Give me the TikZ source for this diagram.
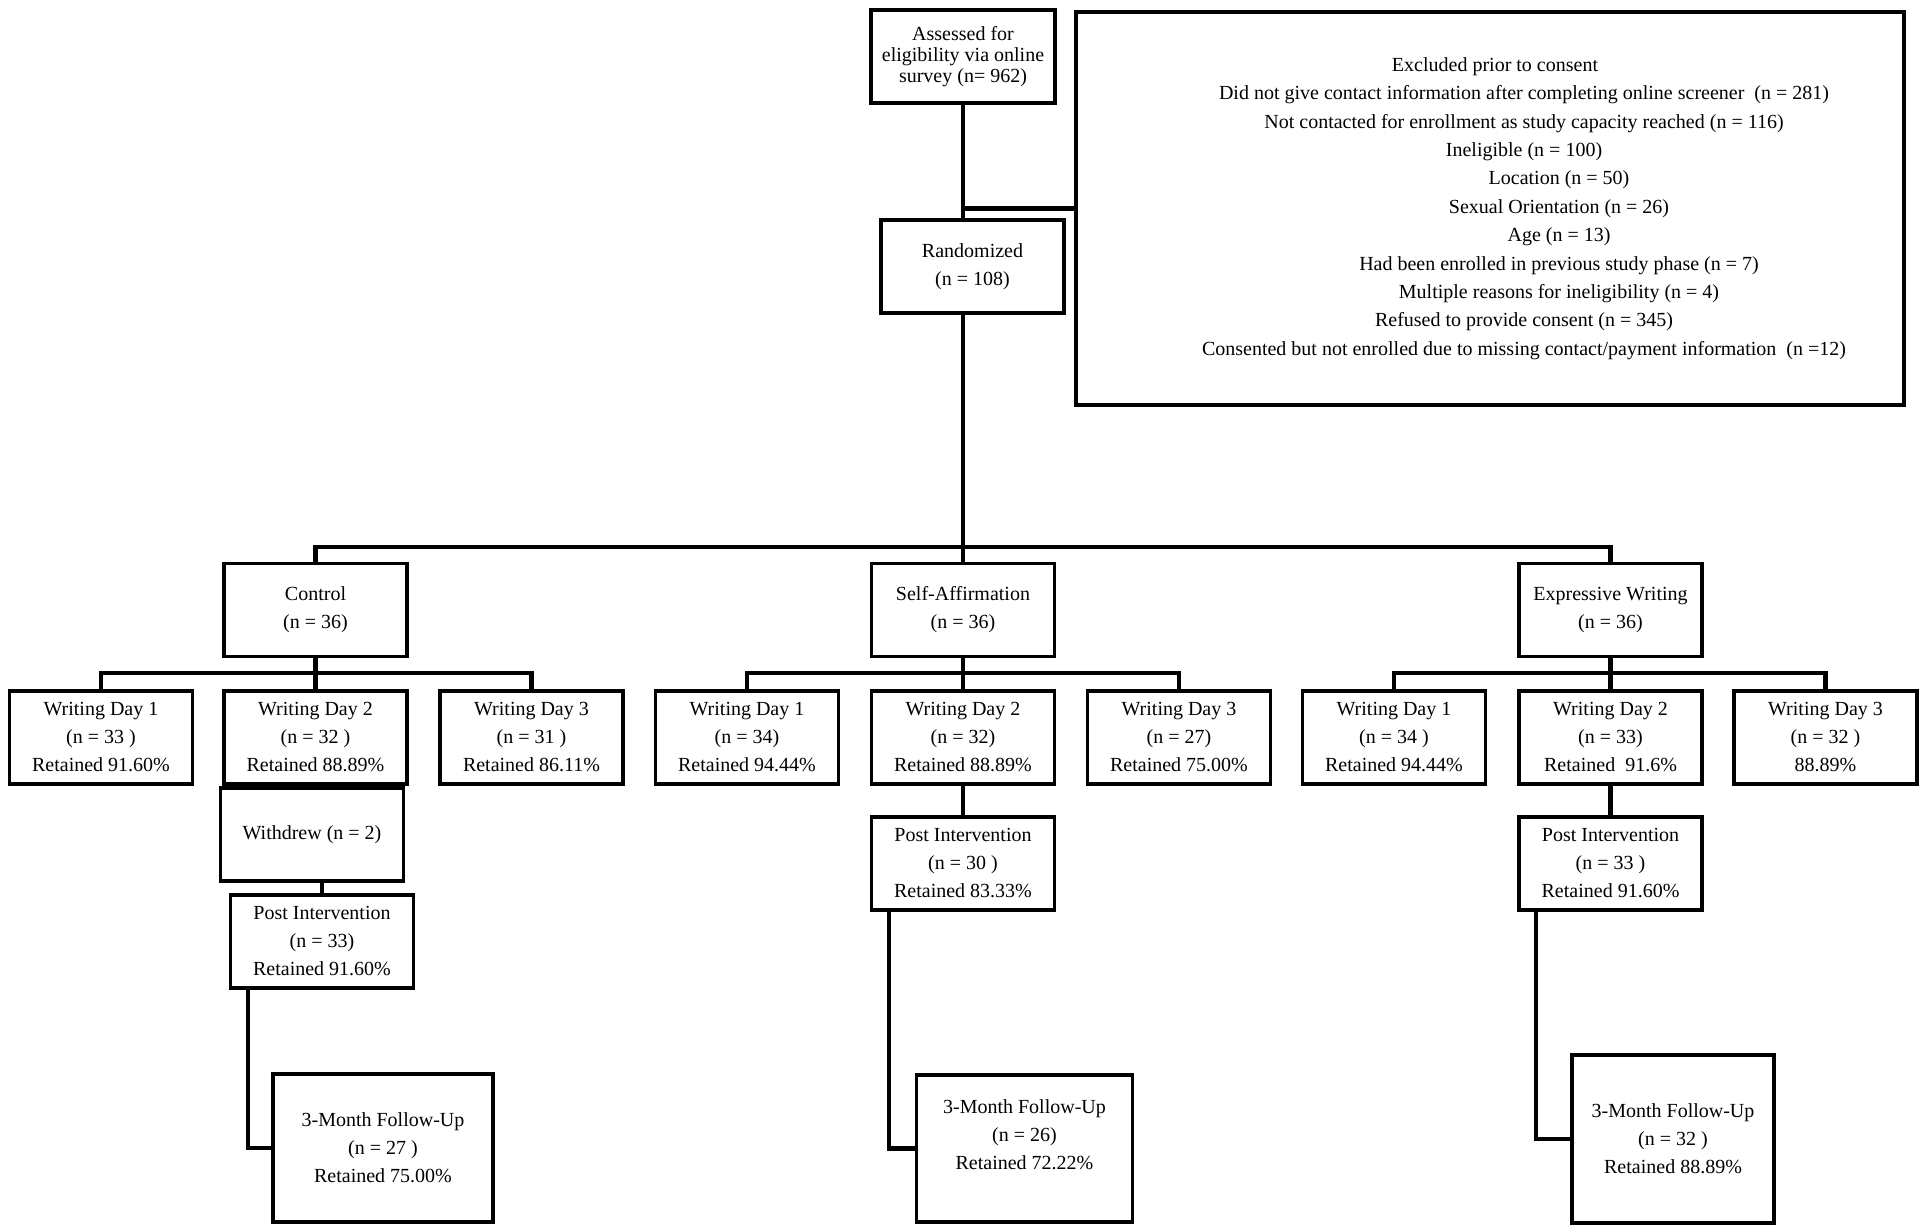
\documentclass[tikz,border=0pt]{standalone}
\usepackage{fontspec}
\setmainfont{Liberation Serif}
\newcommand\exline[2]{\hbox to 0pt{\hss\kern#1\relax #2\hss}}

\begin{document}
\begin{tikzpicture}[x=0.5pt, y=-0.5pt,
  every node/.style={font=\fontsize{10}{14}\selectfont, align=center, inner sep=0pt},
  stage/.style={draw, line width=1.8pt, minimum width=#1, minimum height=46.5pt},
  stage/.default=91.5pt]
  \tikzstyle{link}=[line width=2.2pt]

\useasboundingbox (0,0) rectangle (1920,1229);

\node [stage=92pt, font=\fontsize{10}{10.5}\selectfont] (assess) at (963,56.5)
  {Assessed for\\eligibility via online\\survey (n= 962)};
\node [draw, line width=1.8pt, minimum width=414pt, minimum height=196.5pt,
  font=\fontsize{10}{14.2}\selectfont] (excl) at (1490,208.5) {%
  \exline{5pt}{Excluded prior to consent}\\
  \exline{34pt}{Did not give contact information after completing online screener\ \ (n = 281)}\\
  \exline{34pt}{Not contacted for enrollment as study capacity reached (n = 116)}\\
  \exline{34pt}{Ineligible (n = 100)}\\
  \exline{69pt}{Location (n = 50)}\\
  \exline{69pt}{Sexual Orientation (n = 26)}\\
  \exline{69pt}{Age (n = 13)}\\
  \exline{69pt}{Had been enrolled in previous study phase (n = 7)}\\
  \exline{69pt}{Multiple reasons for ineligibility (n = 4)}\\
  \exline{34pt}{Refused to provide consent (n = 345)}\\
  \exline{34pt}{Consented but not enrolled due to missing contact/payment information\ \ (n =12)}};
\node [stage] (rand) at (972.5,266.5) {Randomized\\(n = 108)};

\node [stage] (ctrl) at (315.5,610) {Control\\(n = 36)};
\node [stage] (sa)   at (963,610)   {Self-Affirmation\\(n = 36)};
\node [stage] (ew)   at (1610.5,610) {Expressive Writing\\(n = 36)};

\node [stage] (wd1_c) at (101,737.5)   {Writing Day 1\\(n = 33 )\\Retained 91.60\%};
\node [stage] (wd2_c) at (315.5,737.5) {Writing Day 2\\(n = 32 )\\Retained 88.89\%};
\node [stage] (wd3_c) at (531.5,737.5) {Writing Day 3\\(n = 31 )\\Retained 86.11\%};
\node [stage] (wd1_s) at (747,737.5)   {Writing Day 1\\(n = 34)\\Retained 94.44\%};
\node [stage] (wd2_s) at (963,737.5)   {Writing Day 2\\(n = 32)\\Retained 88.89\%};
\node [stage] (wd3_s) at (1179,737.5)  {Writing Day 3\\(n = 27)\\Retained 75.00\%};
\node [stage] (wd1_e) at (1394,737.5)  {Writing Day 1\\(n = 34 )\\Retained 94.44\%};
\node [stage] (wd2_e) at (1610.5,737.5) {Writing Day 2\\(n = 33)\\Retained~~91.6\%};
\node [stage] (wd3_e) at (1825.5,737.5) {Writing Day 3\\(n = 32 )\\88.89\%};

\node [stage] (wdr_c) at (312,834.5) {Withdrew (n = 2)};
\node [stage] (pi_c) at (322,941.5)   {Post Intervention\\(n = 33)\\Retained 91.60\%};
\node [stage] (pi_s) at (963,863.5)   {Post Intervention\\(n = 30 )\\Retained 83.33\%};
\node [stage] (pi_e) at (1610.5,863.5) {Post Intervention\\(n = 33 )\\Retained 91.60\%};

\node [stage=110pt, minimum height=74pt] (fu_c) at (383,1148)
  {3-Month Follow-Up\\(n = 27 )\\Retained 75.00\%};
\node [stage=108pt, minimum height=73.5pt] (fu_s) at (1024.5,1148.5)
  {3-Month Follow-Up\\(n = 26)\\Retained 72.22\%\\ };
\node [stage=101pt, minimum height=84pt] (fu_e) at (1673,1139)
  {3-Month Follow-Up\\(n = 32 )\\Retained 88.89\%};

\coordinate (bar) at (963,547);

\draw[link] (assess.south) -- (assess.south |- rand.north);
\draw[link] (excl.west) -- (excl.west -| assess.south);
\draw[link] (rand.south -| assess.south) -- (sa.north);
\draw[link] (ctrl.north) |- (bar) -| (ew.north);

\foreach \g/\grp in {c/ctrl, s/sa, e/ew} {
  \draw[link] (\grp.south) -- (wd2_\g.north);
  \draw[link] (wd1_\g.north) -- ++(0,8pt) -| (wd3_\g.north);
}

\draw[link] (wd2_c.south) -- (wd2_c.south |- wdr_c.north);
\draw[link] (pi_c.north) -- (pi_c.north |- wdr_c.south);
\draw[link] (wd2_s.south) -- (pi_s.north);
\draw[link] (wd2_e.south) -- (pi_e.north);

\foreach \g in {c,s,e}
  \draw[link] (fu_\g.west) -| ([xshift=9.5pt]pi_\g.south west);

\end{tikzpicture}
\end{document}
